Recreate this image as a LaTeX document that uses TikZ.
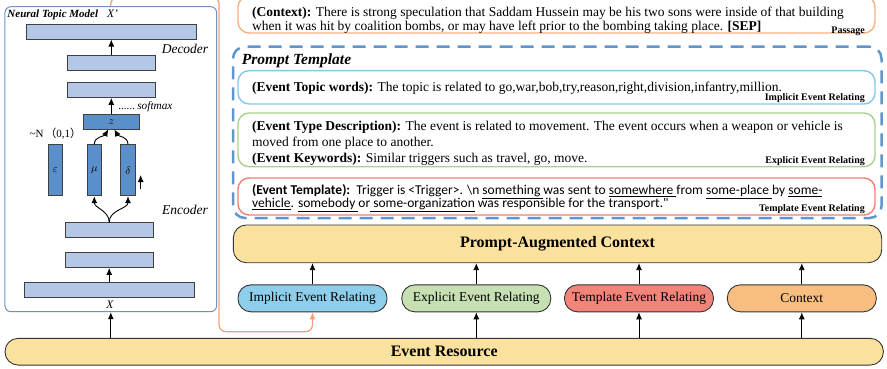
\documentclass[tikz,border=0pt]{standalone}
\usepackage{fontspec}
\setmainfont{Liberation Serif}
\newfontfamily\calfont{Carlito}
\newfontfamily\cjkfont{Noto Sans CJK SC}
\usepackage{tikz}
\usetikzlibrary{positioning,arrows.meta}

\definecolor{ntmframe}{RGB}{112,146,190}
\definecolor{layerblue}{RGB}{180,199,231}
\definecolor{latentblue}{RGB}{91,143,201}
\definecolor{passage}{RGB}{245,176,128}
\definecolor{dashblue}{RGB}{96,150,208}
\definecolor{implicit}{RGB}{130,200,235}
\definecolor{explicit}{RGB}{169,209,142}
\definecolor{template}{RGB}{240,128,118}
\definecolor{implicitfill}{RGB}{142,206,234}
\definecolor{explicitfill}{RGB}{198,224,180}
\definecolor{templatefill}{RGB}{242,132,122}
\definecolor{contextfill}{RGB}{248,190,128}
\definecolor{resource}{RGB}{250,226,158}
\definecolor{flow}{RGB}{244,158,118}

\tikzstyle{layer} = [draw=black!75, fill=layerblue, line width=0.8pt, minimum height=15pt, inner sep=0pt]
\tikzstyle{latent} = [draw=black!75, fill=latentblue, line width=0.8pt, inner sep=0pt, font=\fontsize{11}{12}\selectfont]
\tikzstyle{hint} = [inner sep=0pt, font=\fontsize{13.5}{14}\selectfont\itshape]
\tikzstyle{tedge} = [draw, line width=0.9pt, -{Latex[length=7pt,width=6pt]}]
\tikzstyle{promptbox} = [draw, rounded corners=11pt, line width=1.4pt, minimum width=637pt, inner sep=0pt]
\tikzstyle{txt} = [anchor=base west, inner sep=0pt, font=\fontsize{13.5}{15}\selectfont]
\tikzstyle{sanstxt} = [anchor=base west, inner sep=0pt, font=\fontsize{13.5}{15}\selectfont\calfont]
\tikzstyle{tag} = [anchor=base east, inner sep=0pt, font=\fontsize{10}{11}\selectfont\bfseries]
\tikzstyle{pill} = [draw=black!80, line width=0.9pt, rounded corners=13pt, minimum width=149pt, minimum height=27pt, inner sep=0pt, font=\fontsize{13.5}{15}\selectfont]
\tikzstyle{bar} = [draw=black!80, fill=resource, line width=0.9pt, rounded corners=13pt, inner sep=0pt, font=\fontsize{16}{18}\selectfont\bfseries]

\begin{document}
\begin{tikzpicture}[x=1pt,y=-1pt]
\clip (0,0) rectangle (887,369);

% neural topic model =============================

\node[draw=ntmframe, line width=1pt, rounded corners=6pt, minimum width=211.7pt, minimum height=305pt, inner sep=0pt] (ntm) at (110.8,159.2) {};
\node[anchor=base west, inner sep=0pt, font=\fontsize{11}{12}\selectfont\bfseries\itshape] (ntmtitle) at (7.3,18) {Neural Topic Model};
\node[anchor=base west, inner sep=0pt, font=\fontsize{11.5}{12}\selectfont\itshape] (xout) at (107,18) {X'};

% decoder
\node[layer, minimum width=170.7pt] (dec3) at (111.3,31.7) {};
\node[layer, minimum width=88.3pt, below=15pt of dec3] (dec2) {};
\node[layer, minimum width=88.3pt, below=11.7pt of dec2] (dec1) {};
\node[hint] (declabel) at (185,49.3) {Decoder};

% latent layer
\node[latent, minimum width=55.6pt, minimum height=14.7pt, below=16pt of dec1] (z) {$z$};
\node[anchor=base west, inner sep=0pt, font=\fontsize{11.3}{12}\selectfont\itshape] (softmax) at (118.3,110) {......\,softmax};
\node[latent, minimum width=14.5pt, minimum height=51pt, below=15pt of z, xshift=-17pt] (mu) {$\mu$};
\node[latent, minimum width=14.5pt, minimum height=51pt, below=15pt of z, xshift=16.7pt] (delta) {$\delta$};
\node[latent, minimum width=14.5pt, minimum height=51pt, below=15pt of z, xshift=-56pt] (eps) {$\varepsilon$};
\node[inner sep=0pt, font=\fontsize{11}{12}\selectfont, above=5pt of eps] (prior) {\textasciitilde N\,{\cjkfont （}0,1{\cjkfont ）}};
\coordinate (grow0) at (140.7,189.3);
\coordinate (grow1) at (140.7,175);

% encoder
\node[layer, minimum width=88.3pt] (enc1) at (109.2,230.2) {};
\node[layer, minimum width=88.3pt, below=14pt of enc1] (enc2) {};
\node[layer, minimum width=170.3pt, below=14.3pt of enc2] (enc3) {};
\node[hint] (enclabel) at (185,210) {Encoder};
\node[hint, font=\fontsize{11.5}{12}\selectfont\itshape] (xin) at (110,304.5) {X};

% prompt side =============================

% passage
\node[promptbox, draw=passage, minimum height=37pt] (passage) at (556.5,14.5) {};
\node[txt] (ctx1) at (252,16.7) {\textbf{(Context):} There is strong speculation that Saddam Hussein may be his two sons were inside of that building};
\node[txt] (ctx2) at (252,30.5) {when it was hit by coalition bombs, or may have left prior to the bombing taking place. \textbf{[SEP]}};
\node[tag] (passtag) at (865,33.5) {Passage};

% template frame
\node[draw=dashblue, line width=2.5pt, dash pattern=on 13pt off 8pt, rounded corners=12pt, minimum width=648.5pt, minimum height=171.3pt, inner sep=0pt] (prompt) at (557.25,132.35) {};
\node[anchor=base west, inner sep=0pt, font=\fontsize{15.5}{17}\selectfont\bfseries\itshape] (prompttitle) at (241.7,65) {Prompt Template};

% implicit
\node[promptbox, draw=implicit, minimum height=33.3pt] (implbox) at (556.5,87.35) {};
\node[txt] (impl1) at (252,91.3) {\textbf{(Event Topic words):} The topic is related to go,war,bob,try,reason,right,division,infantry,million.};
\node[tag] (impltag) at (865,100.8) {Implicit Event Relating};

% explicit
\node[promptbox, draw=explicit, minimum height=53.7pt] (explbox) at (556.5,139.85) {};
\node[txt] (expl1) at (252,130) {\textbf{(Event Type Description):} The event is related to movement. The event occurs when a weapon or vehicle is};
\node[txt] (expl2) at (252,146.5) {moved from one place to another.};
\node[txt] (expl3) at (252,162.5) {\textbf{(Event Keywords):} Similar triggers such as travel, go, move.};
\node[tag] (expltag) at (865,163) {Explicit Event Relating};

% template
\node[promptbox, draw=template, minimum height=37pt] (tmplbox) at (556.5,196.5) {};
\node[sanstxt] (tmpl1) at (252,194.8) {\textbf{(Event Template):}\ \ Trigger is <Trigger>. \textbackslash n \underline{something }was sent to \underline{somewhere }from \underline{some-place }by \underline{some-}};
\node[sanstxt] (tmpl2) at (252,207.8) {\underline{vehicle}. \underline{somebody }or\underline{ some-organization} was responsible for the transport."};
\node[tag] (tmpltag) at (865,211.5) {Template Event Relating};

% bars and pills
\node[bar, minimum width=648.4pt, minimum height=37.7pt] (pac) at (557.5,243.85) {Prompt-Augmented Context};
\node[pill, fill=implicitfill] (impl) at (312.5,298.35) {Implicit Event Relating};
\node[pill, fill=explicitfill] (expl) at (476.3,298.35) {Explicit Event Relating};
\node[pill, fill=templatefill] (tmpl) at (639,298.35) {Template Event Relating};
\node[pill, fill=contextfill] (ctx) at (801.8,298.35) {Context};
\node[bar, minimum width=878.3pt, minimum height=26.7pt] (res) at (444.2,351.7) {Event Resource};
\coordinate (bend) at (219,-3);
\coordinate (turn) at (219,331.7);

%edges
\path[tedge] (dec2) -- (dec3);
\path[tedge] (z) -- (dec1);
\path[tedge] (mu.north) to[out=90,in=-120] ([xshift=-3pt]z.south);
\path[tedge] (delta.north) to[out=90,in=-60] ([xshift=3pt]z.south);
\path[tedge] (enc1.north) to[out=90,in=-90] (mu.south);
\path[tedge] (enc1.north) to[out=90,in=-90] (delta.south);
\path[tedge] (grow0) -- (grow1);
\path[tedge] (enc3) -- (enc2);
\path[tedge] (ntm |- res.north) -- (ntm);

\path[tedge] (impl) -- (impl |- pac.south);
\path[tedge] (expl) -- (expl |- pac.south);
\path[tedge] (tmpl) -- (tmpl |- pac.south);
\path[tedge] (ctx) -- (ctx |- pac.south);
\path[tedge] (expl |- res.north) -- (expl);
\path[tedge] (tmpl |- res.north) -- (tmpl);
\path[tedge] (ctx |- res.north) -- (ctx);

\draw[flow, line width=1.2pt, rounded corners=7pt, -{Latex[length=7pt,width=6pt]}] (ntm.north) |- (bend) -- (turn) -| (impl.south);

\end{tikzpicture}
\end{document}
